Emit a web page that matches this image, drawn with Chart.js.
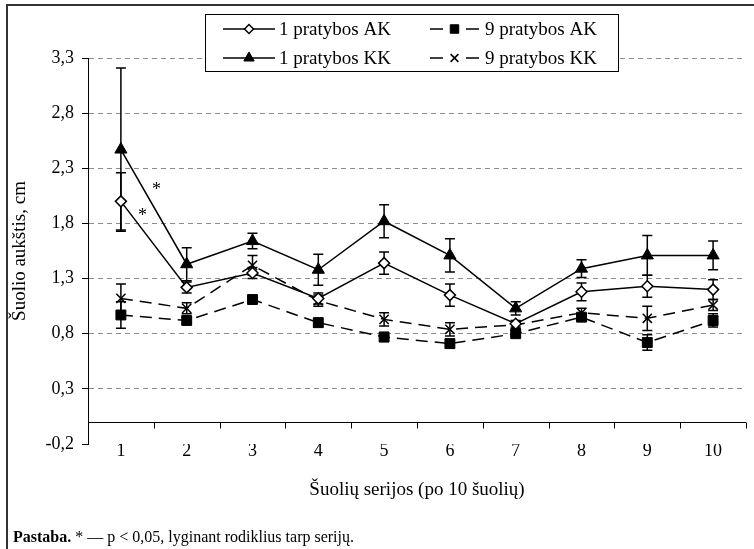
<!DOCTYPE html>
<html>
<head>
<meta charset="utf-8">
<script src="https://cdn.jsdelivr.net/npm/chart.js@4/dist/chart.umd.min.js"></script>
<style>
  html, body { margin: 0; padding: 0; background: #fff; }
  #wrap { position: relative; width: 754px; height: 549px; overflow: hidden; }
  #frame { position: absolute; left: 6px; top: 4px; width: 760px; height: 560px;
           border-left: 2px solid #333; border-top: 2px solid #333; pointer-events: none; }
  #note { position: absolute; left: 13px; top: 528px; font: 16px "Liberation Serif", "Times New Roman", serif;
          color: #000; white-space: nowrap; }
</style>
</head>
<body>
<div id="wrap">
  <canvas id="c" width="754" height="549"></canvas>
  <div id="frame"></div>
  <div id="note"><b>Pastaba.</b> * — p &lt; 0,05, lyginant rodiklius tarp serijų.</div>
</div>
<script>
// Jump series (10 jumps each)
const categories = ['1', '2', '3', '4', '5', '6', '7', '8', '9', '10'];

// Mean jump height and SD per series
const ak1    = [2.00, 1.22, 1.35, 1.12, 1.44, 1.15, 0.89, 1.18, 1.23, 1.20];
const ak1Err = [0.26, 0.05, 0.05, 0.05, 0.10, 0.10, 0.03, 0.08, 0.10, 0.09];
const ak9    = [0.97, 0.92, 1.11, 0.90, 0.77, 0.71, 0.80, 0.95, 0.72, 0.92];
const ak9Err = [0.12, 0.03, 0.03, 0.04, 0.04, 0.04, 0.03, 0.03, 0.07, 0.06];
const kk1    = [2.47, 1.43, 1.64, 1.38, 1.82, 1.51, 1.03, 1.39, 1.51, 1.51];
const kk1Err = [0.74, 0.15, 0.07, 0.14, 0.15, 0.15, 0.06, 0.08, 0.18, 0.13];
const kk9    = [1.12, 1.03, 1.42, 1.10, 0.93, 0.84, 0.88, 0.99, 0.94, 1.06];
const kk9Err = [0.13, 0.05, 0.09, 0.05, 0.06, 0.06, 0.03, 0.04, 0.11, 0.05];

const yTicks = [-0.2, 0.3, 0.8, 1.3, 1.8, 2.3, 2.8, 3.3];

// significance marks (category index, value)
const sigMarks = [
  { text: '*', x: 0.54, y: 2.14 },
  { text: '*', x: 0.33, y: 1.905 }
];

const SERIF = '"Liberation Serif", "Times New Roman", serif';

const datasets = [
  { label: '1 pratybos AK', data: ak1, errors: ak1Err,
    borderColor: '#000', borderWidth: 1.5, borderDash: [],
    pointStyle: 'rectRot', pointRadius: 5.5, pointBackgroundColor: '#fff',
    pointBorderColor: '#000', pointBorderWidth: 1.5 },
  { label: '9 pratybos AK', data: ak9, errors: ak9Err,
    borderColor: '#000', borderWidth: 1.5, borderDash: [12, 7],
    pointStyle: 'rect', pointRadius: 7, pointBackgroundColor: '#000',
    pointBorderColor: '#000', pointBorderWidth: 1 },
  { label: '1 pratybos KK', data: kk1, errors: kk1Err,
    borderColor: '#000', borderWidth: 1.5, borderDash: [],
    pointStyle: 'triangle', pointRadius: 7, pointBackgroundColor: '#000',
    pointBorderColor: '#000', pointBorderWidth: 1 },
  { label: '9 pratybos KK', data: kk9, errors: kk9Err,
    borderColor: '#000', borderWidth: 1.5, borderDash: [12, 7],
    pointStyle: 'crossRot', pointRadius: 6.5, pointBackgroundColor: '#000',
    pointBorderColor: '#000', pointBorderWidth: 1.5 }
];
datasets.forEach(d => { d.fill = false; d.tension = 0; d.pointHoverRadius = d.pointRadius; });

// vertical SD bars with caps
const errorBars = {
  id: 'errorBars',
  beforeDatasetsDraw(chart) {
    const { ctx, scales: { y } } = chart;
    ctx.save();
    ctx.strokeStyle = '#000';
    ctx.lineWidth = 1.5;
    ctx.setLineDash([]);
    chart.data.datasets.forEach((ds, di) => {
      const meta = chart.getDatasetMeta(di);
      meta.data.forEach((pt, i) => {
        const v = ds.data[i], e = ds.errors[i];
        const yt = y.getPixelForValue(v + e), yb = y.getPixelForValue(v - e);
        const x = pt.x;
        ctx.beginPath();
        ctx.moveTo(x, yt); ctx.lineTo(x, yb);
        ctx.moveTo(x - 5, yt); ctx.lineTo(x + 5, yt);
        ctx.moveTo(x - 5, yb); ctx.lineTo(x + 5, yb);
        ctx.stroke();
      });
    });
    ctx.restore();
  }
};

// horizontal axis line at zero with category boundary ticks
const zeroAxis = {
  id: 'zeroAxis',
  afterDraw(chart) {
    const { ctx, chartArea, scales: { x, y } } = chart;
    const y0 = Math.round(y.getPixelForValue(0)) + 0.5;
    ctx.save();
    ctx.strokeStyle = '#000';
    ctx.lineWidth = 1;
    ctx.beginPath();
    ctx.moveTo(chartArea.left, y0);
    ctx.lineTo(chartArea.right, y0);
    for (let i = 0; i <= categories.length; i++) {
      const xb = Math.round(x.getPixelForValue(i - 0.5)) + 0.5;
      ctx.moveTo(xb, y0);
      ctx.lineTo(xb, y0 + 6);
    }
    ctx.stroke();
    ctx.restore();
  }
};

// significance asterisks
const sigLabels = {
  id: 'sigLabels',
  afterDatasetsDraw(chart) {
    const { ctx, scales: { x, y } } = chart;
    ctx.save();
    ctx.fillStyle = '#000';
    ctx.font = '18px ' + SERIF;
    ctx.textAlign = 'center';
    ctx.textBaseline = 'alphabetic';
    sigMarks.forEach(m => {
      const m2 = ctx.measureText(m.text);
      const off = (m2.actualBoundingBoxAscent - m2.actualBoundingBoxDescent) / 2;
      ctx.fillText(m.text, x.getPixelForValue(m.x), y.getPixelForValue(m.y) + off);
    });
    ctx.restore();
  }
};

// boxed two-column legend
const boxLegend = {
  id: 'boxLegend',
  afterDraw(chart) {
    const { ctx } = chart;
    const box = { l: 205.5, t: 14.5, r: 618.5, b: 71.5 };
    const cols = [{ x0: 223, x1: 275, tx: 279 }, { x0: 430, x1: 479, tx: 485 }];
    const rows = [29, 58];
    ctx.save();
    ctx.fillStyle = '#fff';
    ctx.fillRect(box.l, box.t, box.r - box.l, box.b - box.t);
    ctx.strokeStyle = '#000';
    ctx.lineWidth = 1;
    ctx.strokeRect(box.l, box.t, box.r - box.l, box.b - box.t);
    chart.data.datasets.forEach((ds, i) => {
      const c = cols[i % 2], yy = rows[Math.floor(i / 2)];
      const mx = (c.x0 + c.x1) / 2;
      ctx.strokeStyle = '#000';
      ctx.lineWidth = ds.borderWidth;
      ctx.setLineDash([]);
      ctx.beginPath();
      if (ds.borderDash.length) {
        ctx.moveTo(c.x0, yy); ctx.lineTo(c.x0 + 13, yy);
        ctx.moveTo(c.x1 - 13, yy); ctx.lineTo(c.x1, yy);
      } else {
        ctx.moveTo(c.x0, yy); ctx.lineTo(c.x1, yy);
      }
      ctx.stroke();
      ctx.fillStyle = ds.pointBackgroundColor;
      ctx.strokeStyle = ds.pointBorderColor;
      ctx.lineWidth = ds.pointBorderWidth;
      Chart.helpers.drawPoint(ctx, { pointStyle: ds.pointStyle, radius: ds.pointRadius - 1, rotation: 0, borderWidth: ds.pointBorderWidth }, mx, yy);
      ctx.fillStyle = '#000';
      ctx.font = '19px ' + SERIF;
      ctx.textAlign = 'left';
      ctx.textBaseline = 'middle';
      ctx.fillText(ds.label, c.tx, yy + 1);
    });
    ctx.restore();
  }
};

new Chart(document.getElementById('c'), {
  type: 'line',
  data: { labels: categories, datasets },
  options: {
    responsive: false,
    animation: false,
    events: [],
    layout: { padding: { left: 9, top: 58, right: 4, bottom: 48 } },
    plugins: { legend: { display: false }, tooltip: { enabled: false } },
    scales: {
      x: {
        type: 'category',
        offset: true,
        grid: { display: false },
        border: { display: false },
        ticks: { color: '#000', font: { family: SERIF, size: 18 }, padding: -12, maxRotation: 0 },
        title: { display: true, text: 'Šuolių serijos (po 10 šuolių)', color: '#000',
                 font: { family: SERIF, size: 19 }, padding: 0 },
        afterFit(s) { s.height = 57; }
      },
      y: {
        min: -0.2,
        max: 3.3,
        afterBuildTicks(s) { s.ticks = yTicks.map(v => ({ value: v })); },
        grid: {
          color: c => (c.index === 0 ? 'rgba(0,0,0,0)' : '#8c8c8c'),
          lineWidth: 1,
          tickColor: '#000',
          tickLength: 6,
          tickBorderDash: [],
          drawTicks: true
        },
        border: { display: true, color: '#000', width: 1, dash: [5, 4] },
        ticks: {
          color: '#000', font: { family: SERIF, size: 18 }, padding: 8,
          callback: v => v.toFixed(1).replace('.', ',')
        },
        title: { display: true, text: 'Šuolio aukštis, cm', color: '#000',
                 font: { family: SERIF, size: 19 }, padding: 0 },
        afterFit(s) { s.width = 79; }
      }
    }
  },
  plugins: [errorBars, zeroAxis, sigLabels, boxLegend]
});
</script>
</body>
</html>
